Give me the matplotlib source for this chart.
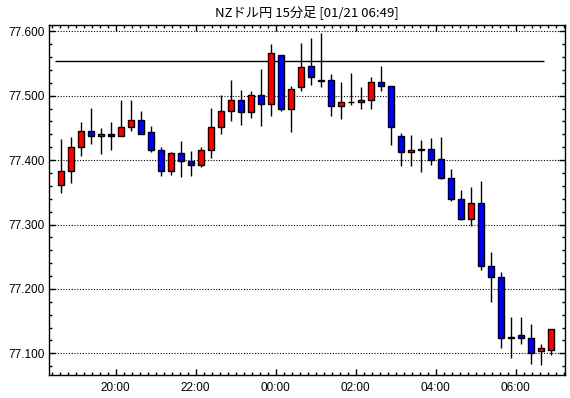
import matplotlib
matplotlib.use("Agg")
import matplotlib.pyplot as plt
from matplotlib.ticker import MultipleLocator, FixedLocator

# NZドル円 15分足, 18:30 から 06:45 まで (50本)
start_hour = 18.5
bar_hours = 0.25

opens = [77.361, 77.383, 77.420, 77.445, 77.437, 77.441, 77.437, 77.452, 77.462, 77.443,
         77.415, 77.383, 77.411, 77.398, 77.393, 77.415, 77.451, 77.477, 77.494, 77.475,
         77.501, 77.487, 77.563, 77.480, 77.513, 77.546, 77.525, 77.524, 77.484, 77.490,
         77.490, 77.494, 77.521, 77.515, 77.438, 77.412, 77.415, 77.418, 77.401, 77.372,
         77.339, 77.309, 77.334, 77.235, 77.218, 77.123, 77.128, 77.123, 77.103, 77.105]
highs = [77.433, 77.436, 77.459, 77.481, 77.450, 77.459, 77.493, 77.493, 77.476, 77.453,
         77.420, 77.413, 77.430, 77.414, 77.420, 77.481, 77.501, 77.524, 77.509, 77.507,
         77.541, 77.580, 77.563, 77.515, 77.582, 77.590, 77.598, 77.534, 77.521, 77.535,
         77.514, 77.529, 77.546, 77.515, 77.442, 77.439, 77.431, 77.434, 77.436, 77.386,
         77.354, 77.358, 77.368, 77.257, 77.226, 77.156, 77.157, 77.145, 77.114, 77.138]
lows = [77.349, 77.365, 77.407, 77.425, 77.410, 77.416, 77.437, 77.445, 77.440, 77.413,
        77.376, 77.377, 77.373, 77.375, 77.389, 77.404, 77.441, 77.460, 77.455, 77.466,
        77.453, 77.469, 77.476, 77.444, 77.508, 77.516, 77.514, 77.469, 77.464, 77.485,
        77.479, 77.480, 77.507, 77.424, 77.391, 77.391, 77.382, 77.393, 77.370, 77.337,
        77.307, 77.298, 77.230, 77.180, 77.109, 77.092, 77.114, 77.084, 77.082, 77.097]
closes = [77.383, 77.420, 77.445, 77.438, 77.441, 77.437, 77.452, 77.462, 77.441, 77.415,
          77.383, 77.411, 77.398, 77.393, 77.415, 77.451, 77.477, 77.494, 77.475, 77.501,
          77.487, 77.566, 77.480, 77.511, 77.544, 77.529, 77.523, 77.484, 77.490, 77.490,
          77.494, 77.521, 77.515, 77.451, 77.412, 77.416, 77.418, 77.400, 77.372, 77.339,
          77.309, 77.334, 77.235, 77.218, 77.123, 77.126, 77.123, 77.100, 77.108, 77.137]

ref_level = 77.554
ref_span = (18.483, 30.716)

hour_ticks = [20, 22, 24, 26, 28, 30]
hour_labels = ["20:00", "22:00", "00:00", "02:00", "04:00", "06:00"]

fig = plt.figure(figsize=(5.7, 3.98), dpi=100)
ax = fig.add_axes([49 / 570, 1 - 375 / 398, (565 - 49) / 570, (375 - 25) / 398])

centers = [start_hour + bar_hours * (i + 0.5) for i in range(len(opens))]

# ヒゲ
ax.vlines(centers, lows, highs, color="black", linewidth=1, zorder=2)

# 実体
for x, o, c in zip(centers, opens, closes):
    colour = "#ff0000" if c >= o else "#0000ff"
    h = abs(c - o)
    if h < 0.0008:
        h = 0.0008
    ax.bar(x, h, bottom=min(o, c), width=0.155, color=colour,
           edgecolor="black", linewidth=1, zorder=3)

ax.hlines(ref_level, ref_span[0], ref_span[1], color="black", linewidth=1, zorder=1)

ax.set_xlim(18.333, 31.233)
ax.set_ylim(77.0663, 77.6098)

ax.yaxis.set_major_locator(FixedLocator([77.1, 77.2, 77.3, 77.4, 77.5, 77.6]))
ax.yaxis.set_minor_locator(MultipleLocator(0.02))
ax.set_yticklabels(["77.100", "77.200", "77.300", "77.400", "77.500", "77.600"])
ax.xaxis.set_major_locator(FixedLocator(hour_ticks))
ax.xaxis.set_minor_locator(MultipleLocator(0.2))
ax.set_xticklabels(hour_labels)

ax.grid(axis="y", which="major", color="black", linestyle=(0, (1, 1.5)), linewidth=0.8)

ax.tick_params(which="both", direction="in", top=True, right=True,
               width=1, colors="black", labelsize=8.5)
ax.tick_params(which="major", length=4.5, pad=3)
ax.tick_params(which="minor", length=2.5)
ax.tick_params(axis="x", pad=5)
for lbl in ax.get_xticklabels() + ax.get_yticklabels():
    lbl.set_fontfamily("Liberation Sans")

for sp in ax.spines.values():
    sp.set_linewidth(1.0)
    sp.set_color("black")

fig.text(307 / 570, 1 - 12 / 398, "NZドル円 15分足 [01/21 06:49]",
         ha="center", va="center", fontsize=9.5,
         family=["Noto Sans CJK JP", "DejaVu Sans"])

fig.savefig("out.png", dpi=100)
